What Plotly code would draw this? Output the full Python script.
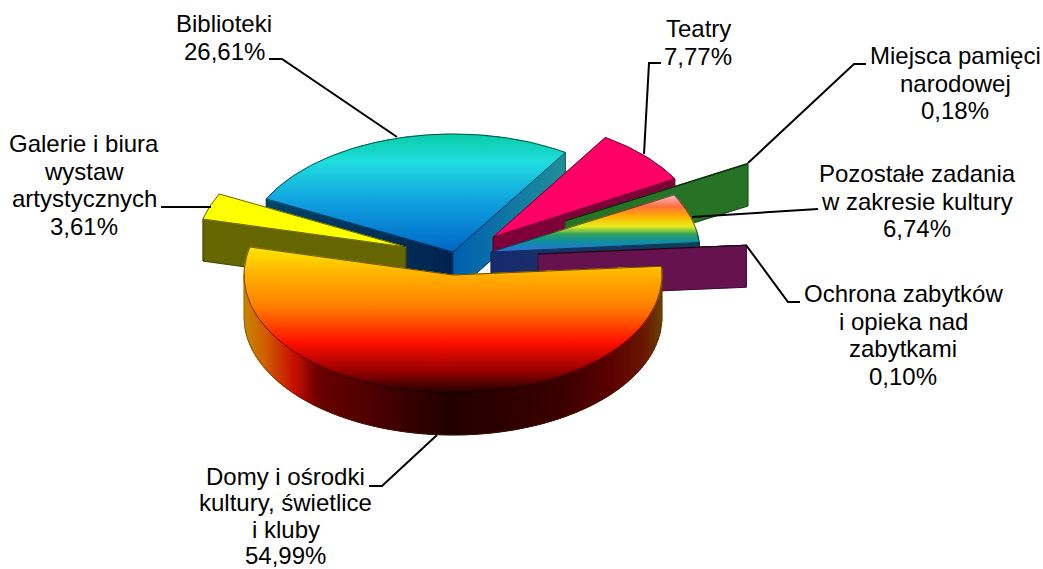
import math
import plotly.graph_objects as go

# ---- data (clockwise, starting after Domy) ----
categories = ["Biblioteki", "Galerie i biura wystaw artystycznych", "Teatry",
              "Miejsca pamięci narodowej", "Pozostałe zadania w zakresie kultury",
              "Ochrona zabytków i opieka nad zabytkami",
              "Domy i ośrodki kultury, świetlice i kluby"]
values = [26.61, 3.61, 7.77, 0.18, 6.74, 0.10, 54.99]
value_labels = ["26,61%", "3,61%", "7,77%", "0,18%", "6,74%", "0,10%", "54,99%"]

# ---- pie geometry (layout in pixels, y down) ----
CX, CY, RX, RY, DEPTH = 453.0, 275.0, 209.0, 118.0, 42.0
START_DOMY = 166.3            # ellipse angle at which Domy ends / Galerie starts
ring_order = ["Galerie", "Biblioteki", "Teatry", "Miejsca", "Pozostale", "Ochrona", "Domy"]
ring_idx = [1, 0, 2, 3, 4, 5, 6]
explode = {"Domy": (0, 0), "Biblioteki": (0, -23), "Galerie": (-47, -28), "Teatry": (40, -38),
           "Miejsca": (112, -54), "Pozostale": (38, -23), "Ochrona": (85, -21)}
draw_order = ["Biblioteki", "Galerie", "Teatry", "Miejsca", "Pozostale", "Ochrona", "Domy"]

top_grad = {
    "Domy": [(0, "#FFE800"), (.18, "#FFB400"), (.41, "#FF8000"), (.66, "#FF1000"), (.865, "#900000"), (1, "#250000")],
    "Biblioteki": [(0, "#08CCA8"), (.24, "#20DDDD"), (.58, "#10A0E0"), (1, "#0068C8")],
    "Pozostale": [(0, "#FFC0D0"), (.21, "#FF7040"), (.39, "#FFB000"), (.56, "#E8F020"), (.70, "#30A060"), (.82, "#1090A0"), (1, "#3070E0")],
    "Galerie": [(0, "#FFFF00"), (1, "#FFFF00")],
    "Teatry": [(0, "#FF0066"), (1, "#FF0066")],
    "Miejsca": [(0, "#2E8B2E"), (1, "#2E8B2E")],
    "Ochrona": [(0, "#7A1A60"), (1, "#7A1A60")],
}
arc_grad = [(0, "#C88800"), (.05, "#D06000"), (.12, "#C81000"), (.18, "#6A0000"), (.49, "#220000"),
            (.755, "#3A0000"), (.875, "#5A0000"), (.96, "#6A1800"), (1, "#6A4000")]
cut_grad = {
    ("Biblioteki", "start"): [(0, "#004468"), (1, "#00234F")],
    ("Biblioteki", "end"): [(0, "#005FB0"), (1, "#208F98")],
    ("Galerie", "start"): [(0, "#666600"), (1, "#666600")],
    ("Teatry", "end"): [(0, "#7F0038"), (1, "#7F0038")],
    ("Miejsca", "end"): [(0, "#267326"), (1, "#267326")],
    ("Pozostale", "end"): [(0, "#1A2A70"), (1, "#0A4058")],
    ("Ochrona", "end"): [(0, "#66124E"), (1, "#66124E")],
}

# label text anchors: (centre x, first baseline y), text lines
label_lines = {
    "Biblioteki": ["Biblioteki", "26,61%"],
    "Galerie": ["Galerie i biura", "wystaw", "artystycznych", "3,61%"],
    "Teatry": ["Teatry", "7,77%"],
    "Miejsca": ["Miejsca pamięci", "narodowej", "0,18%"],
    "Pozostale": ["Pozostałe zadania", "w zakresie kultury", "6,74%"],
    "Ochrona": ["Ochrona zabytków", "i opieka nad", "zabytkami", "0,10%"],
    "Domy": ["Domy i ośrodki", "kultury, świetlice", "i kluby", "54,99%"],
}
label_pos = {"Biblioteki": (224, 32), "Galerie": (84, 152), "Teatry": (698, 37), "Miejsca": (955, 64),
             "Pozostale": (917, 182), "Ochrona": (903, 302), "Domy": (285.5, 485)}
label_step = {"Domy": 26.3}
leaders = {
    "Biblioteki": [(269, 59), (282, 59), (397, 137)],
    "Galerie": [(161, 207), (211, 207)],
    "Teatry": [(661, 63), (649, 63), (644, 154)],
    "Miejsca": [(866, 64), (854, 64), (748, 163)],
    "Pozostale": [(818, 209), (692, 217)],
    "Ochrona": [(800, 302), (788, 302), (746, 245)],
    "Domy": [(369, 486), (382, 486), (437, 435)],
}
FONT = "Liberation Sans, Arial, sans-serif"
FONT_SIZE = 24
LINE_H = 27.5


def hex2rgb(h):
    return tuple(int(h[i:i + 2], 16) for i in (1, 3, 5))


def ramp(stops, f):
    f = max(0.0, min(1.0, f))
    for (a, ca), (b, cb) in zip(stops, stops[1:]):
        if f <= b:
            k = 0 if b == a else (f - a) / (b - a)
            ra, rb = hex2rgb(ca), hex2rgb(cb)
            return "rgb(%d,%d,%d)" % tuple(round(p + (q - p) * k) for p, q in zip(ra, rb))
    return stops[-1][1]


def clip(poly, axis, lo, hi):
    def half(pts, inside, cross):
        out = []
        for i, p in enumerate(pts):
            q = pts[(i + 1) % len(pts)]
            if inside(p):
                out.append(p)
            if inside(p) != inside(q):
                k = (cross - p[axis]) / (q[axis] - p[axis])
                out.append((p[0] + (q[0] - p[0]) * k, p[1] + (q[1] - p[1]) * k))
        return out
    r = half(poly, lambda p: p[axis] >= lo, lo)
    if r:
        r = half(r, lambda p: p[axis] <= hi, hi)
    return r


fig = go.Figure()


def add_poly(pts, color, tip):
    xs = [p[0] for p in pts] + [pts[0][0]]
    ys = [p[1] for p in pts] + [pts[0][1]]
    fig.add_trace(go.Scatter(x=xs, y=ys, mode="lines", fill="toself", fillcolor=color,
                             line=dict(color=color, width=1), hoverinfo="text", text=tip,
                             showlegend=False))


def add_line(pts, color="rgba(0,0,0,0.75)", width=0.8):
    fig.add_trace(go.Scatter(x=[p[0] for p in pts], y=[p[1] for p in pts], mode="lines",
                             line=dict(color=color, width=width), hoverinfo="skip", showlegend=False))


def gradient_fill(polys, axis, stops, lo, hi, step, tip):
    solid = len({c for _, c in stops}) == 1
    if solid:
        for poly in polys:
            add_poly(poly, stops[0][1], tip)
        return
    v = lo
    while v < hi:
        w = min(hi, v + step)
        col = ramp(stops, ((v + w) / 2 - lo) / (hi - lo))
        for poly in polys:
            piece = clip(poly, axis, v, w)
            if len(piece) >= 3:
                add_poly(piece, col, tip)
        v = w


# ---- angles come from the values ----
spans = {}
t = START_DOMY
for name, i in zip(ring_order, ring_idx):
    sweep = values[i] / sum(values) * 360.0
    spans[name] = (t, t - sweep)
    t -= sweep


def pt(name, deg, drop=0.0):
    dx, dy = explode[name]
    a = math.radians(deg)
    return (CX + dx + RX * math.cos(a), CY + dy - RY * math.sin(a) + drop)


def arc(name, a, b, drop=0.0):
    n = max(2, int(abs(a - b)))
    return [pt(name, a + (b - a) * k / n, drop) for k in range(n + 1)]


for name in draw_order:
    i = ring_idx[ring_order.index(name)]
    tip = f"{categories[i]}: {value_labels[i]}"
    t0, t1 = spans[name]
    ox, oy = CX + explode[name][0], CY + explode[name][1]
    apex = (ox, oy)
    apex_low = (ox, oy + DEPTH)

    # outer wall: only the part of the rim facing the viewer
    lo_deg, hi_deg = max(t1, -180.0), min(t0, 0.0)
    if lo_deg < hi_deg:
        top = arc(name, hi_deg, lo_deg)
        low = arc(name, lo_deg, hi_deg, DEPTH)
        poly = top + low
        xs = [p[0] for p in poly]
        gradient_fill([poly], 0, arc_grad, min(xs), max(xs), 2.0, tip)
        add_line(low, "rgba(70,40,10,0.6)", 0.8)
        add_line([low[0], top[-1]], "rgba(70,40,10,0.5)", 0.6)
        add_line([low[-1], top[0]], "rgba(70,40,10,0.5)", 0.6)

    # flat cut walls
    for side, deg in (("start", t0), ("end", t1)):
        if (name, side) in cut_grad:
            p = pt(name, deg)
            poly = [apex, p, (p[0], p[1] + DEPTH), apex_low]
            xs = [q[0] for q in poly]
            gradient_fill([poly], 0, cut_grad[(name, side)], min(xs), max(xs), 2.0, tip)
            add_line(poly + [poly[0]], "rgba(0,0,0,0.55)", 0.7)

    # top face: split into convex sectors so strips never bridge the notch
    n_parts = 1 if abs(t0 - t1) <= 90 else 4
    sectors = []
    for k in range(n_parts):
        a = t0 + (t1 - t0) * k / n_parts
        b = t0 + (t1 - t0) * (k + 1) / n_parts
        sectors.append([apex] + arc(name, a, b))
    outline = [apex] + arc(name, t0, t1)
    ys = [q[1] for q in outline]
    full_top = oy - RY if name == "Biblioteki" else min(ys)
    gradient_fill(sectors, 1, top_grad[name], full_top, max(ys), 1.5, tip)
    add_line(outline + [outline[0]], "rgba(0,0,0,0.75)", 0.8)

for name, pts in leaders.items():
    add_line(pts, "#000000", 2)

annotations = []
for name, lines in label_lines.items():
    x, base = label_pos[name]
    for k, line in enumerate(lines):
        annotations.append(dict(x=x, y=base + k * label_step.get(name, LINE_H), xref="x", yref="y",
                                text=line, showarrow=False, xanchor="center", yanchor="bottom",
                                yshift=-6, font=dict(family=FONT, size=FONT_SIZE, color="#000000"),
                                borderpad=0))

fig.update_layout(
    width=1043, height=569, margin=dict(l=0, r=0, t=0, b=0),
    paper_bgcolor="white", plot_bgcolor="white", showlegend=False,
    xaxis=dict(range=[0, 1043], visible=False, fixedrange=True),
    yaxis=dict(range=[569, 0], visible=False, fixedrange=True),
    annotations=annotations,
)
fig.write_html("out.html", config={"displayModeBar": False},
               post_script="document.body.style.margin='0';")
